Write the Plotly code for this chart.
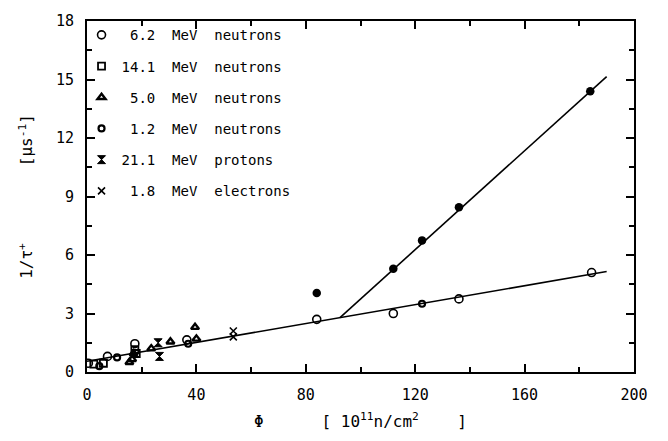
import plotly.graph_objects as go

# Fluence Phi [1e11 n/cm^2] and inverse lifetime 1/tau+ [us^-1] per irradiation
n62_x = [0.5, 7.5, 17.5, 36.5, 84, 112, 136, 184.5]
n62_y = [0.45, 0.8, 1.45, 1.65, 2.7, 3.0, 3.75, 5.1]

n141_x = [2.5, 6.0, 17.5, 18.0]
n141_y = [0.4, 0.45, 1.15, 0.95]

n50_x = [15.5, 16.5, 17.0, 23.5, 30.5, 39.5, 40.0]
n50_y = [0.5, 0.65, 0.95, 1.2, 1.55, 2.3, 1.7]

n12_x = [4.5, 11.0, 37.0, 122.5]
n12_y = [0.3, 0.75, 1.45, 3.5]

p211_x = [26.0, 26.5]
p211_y = [1.5, 0.8]

e18_x = [53.5, 53.5]
e18_y = [2.1, 1.8]

# high-fluence branch
hi_x = [84, 112, 122.5, 136, 184]
hi_y = [4.05, 5.3, 6.75, 8.45, 14.4]

# fitted straight lines (end points)
fit_lo_x = [0, 190]
fit_lo_y = [0.55, 5.15]
fit_hi_x = [92.5, 190]
fit_hi_y = [2.79, 15.15]

x_range = [0, 200]
y_range = [0, 18]
x_step, x_minor = 40, 20
y_step, y_minor = 3, 1.5

NB = "\u00a0"
labels = [
    NB + "6.2" + NB * 2 + "MeV" + NB * 2 + "neutrons",
    "14.1" + NB * 2 + "MeV" + NB * 2 + "neutrons",
    NB + "5.0" + NB * 2 + "MeV" + NB * 2 + "neutrons",
    NB + "1.2" + NB * 2 + "MeV" + NB * 2 + "neutrons",
    "21.1" + NB * 2 + "MeV" + NB * 2 + "protons",
    NB + "1.8" + NB * 2 + "MeV" + NB * 2 + "electrons",
]

K = "black"
fig = go.Figure()

fig.add_trace(go.Scatter(x=fit_lo_x, y=fit_lo_y, mode="lines",
                         line=dict(color=K, width=1.6), showlegend=False))
fig.add_trace(go.Scatter(x=fit_hi_x, y=fit_hi_y, mode="lines",
                         line=dict(color=K, width=1.6), showlegend=False))

series = [
    (n62_x, n62_y, "circle-open", 8, 1.6),
    (n141_x, n141_y, "square-open", 7, 1.8),
    (n50_x, n50_y, "triangle-up-open", 7, 2.4),
    (n12_x, n12_y, "circle-open", 6, 2.2),
    (p211_x, p211_y, "hourglass", 8, 1.0),
    (e18_x, e18_y, "x-thin-open", 7, 1.6),
]
for i, ((xs, ys, sym, size, lw), name) in enumerate(zip(series, labels)):
    fig.add_trace(go.Scatter(
        x=xs, y=ys, mode="markers", name=name, legendgroup=f"g{i}",
        marker=dict(symbol=sym, size=size, color=K, line=dict(color=K, width=lw)),
    ))

fig.add_trace(go.Scatter(x=hi_x, y=hi_y, mode="markers", showlegend=False,
                         marker=dict(symbol="circle", size=8.5, color=K)))

axis_common = dict(
    showline=True, linecolor=K, linewidth=2, mirror="ticks",
    ticks="inside", ticklen=8, tickwidth=1.5, tickcolor=K,
    showgrid=False, zeroline=False,
    tickfont=dict(family="DejaVu Sans Mono", size=15, color=K),
    ticklabelstandoff=8,
)

title_font = dict(family="DejaVu Sans Mono", size=16, color=K)

fig.update_xaxes(
    range=x_range, tick0=0, dtick=x_step, **axis_common,
    minor=dict(ticks="inside", ticklen=5, tickwidth=1.5, tickcolor=K, dtick=x_minor, showgrid=False),
    title=dict(text="Φ" + NB * 6 + "[" + NB + "10<sup>11</sup>n/cm<sup>2</sup>" + NB * 4 + "]",
               font=title_font, standoff=13),
)
fig.update_yaxes(
    range=y_range, tick0=0, dtick=y_step, **axis_common,
    minor=dict(ticks="inside", ticklen=5, tickwidth=1.5, tickcolor=K, dtick=y_minor, showgrid=False),
    title=dict(text="1/τ<sup>+</sup>" + NB * 8 + "[μs<sup>-1</sup>]",
               font=title_font, standoff=19),
)

fig.update_layout(
    width=668, height=441,
    margin=dict(l=87, r=34, t=12, b=69),
    paper_bgcolor="white", plot_bgcolor="white",
    legend=dict(x=-0.01, y=1.005, xanchor="left", yanchor="top",
                bgcolor="rgba(0,0,0,0)", tracegroupgap=10,
                font=dict(family="DejaVu Sans Mono", size=14, color=K)),
)

fig.write_html("out.html")
